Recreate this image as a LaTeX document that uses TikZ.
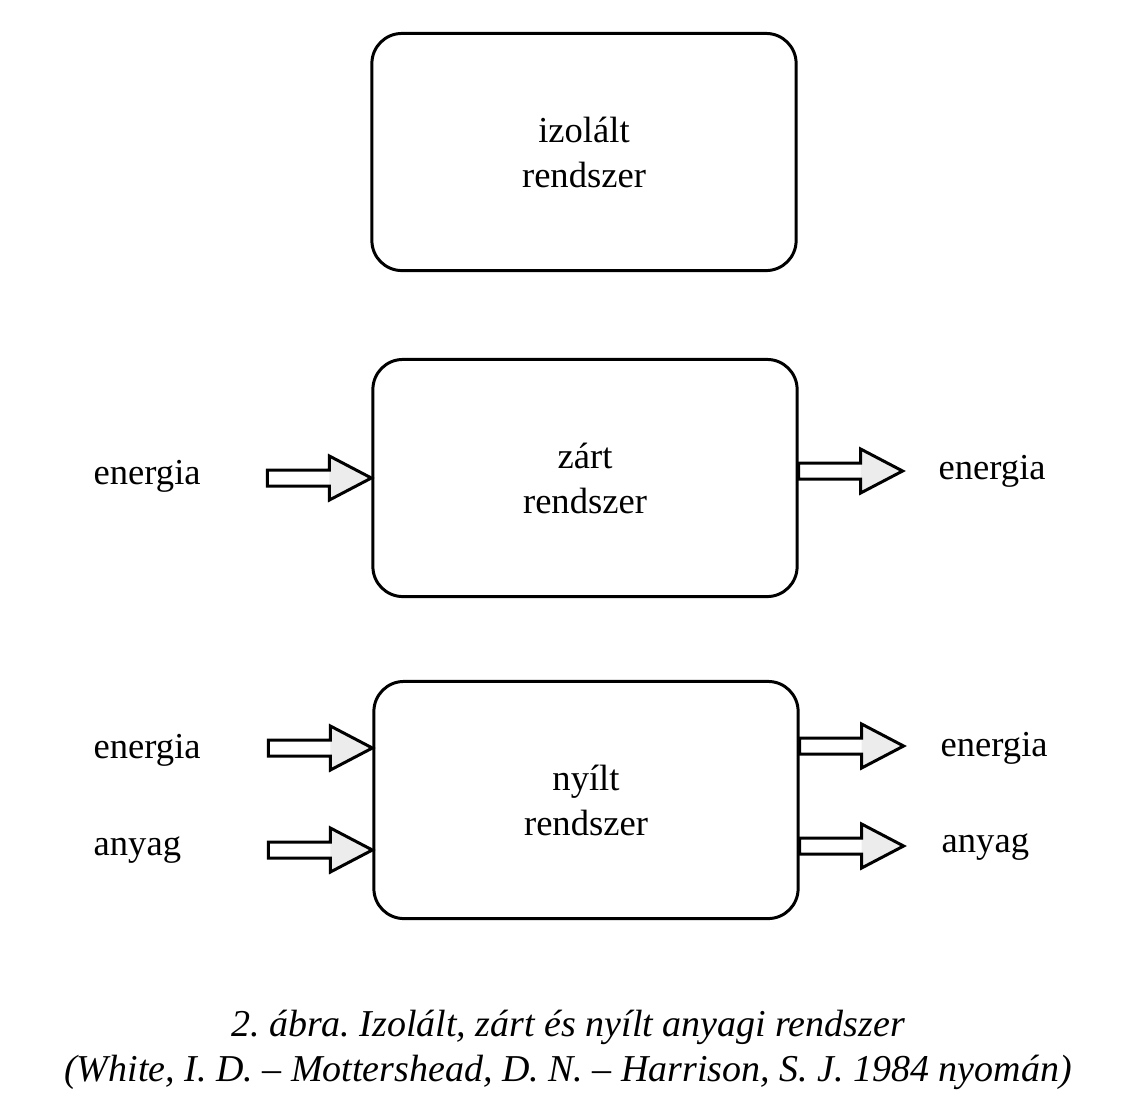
\documentclass[tikz,border=0pt]{standalone}
\usepackage{fontspec}
\setmainfont{Liberation Serif}
\frenchspacing
\tikzset{
  sysbox/.style={draw, line width=0.85pt, rounded corners=0.3cm,
    minimum width=4.24cm, minimum height=2.37cm, align=center,
    font=\fontsize{10.4}{12.8}\selectfont},
  flowlabel/.style={anchor=west, inner sep=0pt, font=\fontsize{10.4}{12.8}\selectfont},
  pics/hollowarrow/.style={code={
    \fill[white] (0,-8) rectangle (62,8);
    \fill[gray!15] (62,-22) -- (104,0) -- (62,22) -- cycle;
    \draw[line width=0.85pt, line join=miter]
      (0,-8) -- (62,-8) -- (62,-22) -- (104,0) -- (62,22) -- (62,8) -- (0,8) -- cycle;
  }}
}
\begin{document}
\begin{tikzpicture}[x=0.01cm, y=-0.01cm]
	\useasboundingbox[fill=white] (0,0) rectangle (1136,1099);
	% izolalt
	\node[sysbox] (izolalt) at (584,152) {izolált\\rendszer};
	% zart: csak energia
	\node[sysbox] (zart) at (585,478) {zárt\\rendszer};
	\path (zart.west) ++(-104,0) pic {hollowarrow};
	\path (zart.east) ++(0,-7) pic {hollowarrow};
	\node[flowlabel] (zartin) at (93,476) {energia};
	\node[flowlabel] (zartout) at (938,471) {energia};
	% nyilt: energia es anyag
	\node[sysbox] (nyilt) at (586,800) {nyílt\\rendszer};
	\foreach \dy in {-52,50}
		\path (nyilt.west) ++(-104,\dy) pic {hollowarrow};
	\foreach \dy in {-54,46}
		\path (nyilt.east) ++(0,\dy) pic {hollowarrow};
	\node[flowlabel] (nyiltein) at (93,750) {energia};
	\node[flowlabel] (nyiltain) at (93,850) {anyag};
	\node[flowlabel] (nyilteout) at (940,748) {energia};
	\node[flowlabel] (nyiltaout) at (941,847) {anyag};
	% abrafelirat
	\node[align=center, font=\itshape\fontsize{10.8}{12.8}\selectfont] (felirat) at (568,1050)
		{2. ábra. Izolált, zárt és nyílt anyagi rendszer\\(White, I. D. – Mottershead, D. N. – Harrison, S. J. 1984 nyomán)};
\end{tikzpicture}
\end{document}
